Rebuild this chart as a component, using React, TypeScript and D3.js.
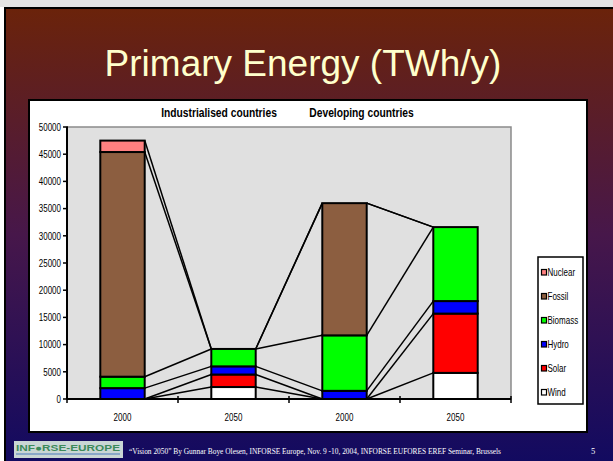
import React from "react";
import * as d3 from "d3";

const categories = ["2000", "2050", "2000", "2050"];
const groupTitles = ["Industrialised countries", "Developing countries"];
const seriesNames = ["Wind", "Solar", "Hydro", "Biomass", "Fossil", "Nuclear"];
const wind = [0, 2200, 0, 4800];
const solar = [0, 2300, 0, 10900];
const hydro = [2000, 1500, 1500, 2300];
const biomass = [2100, 3200, 10200, 13600];
const fossil = [41300, 0, 24300, 0];
const nuclear = [2100, 0, 0, 0];
const yTicks = [0, 5000, 10000, 15000, 20000, 25000, 30000, 35000, 40000, 45000, 50000];
const colors = ["#ffffff", "#ff0000", "#0000ff", "#00ff00", "#8c5e40", "#ff8080"];

const seriesValues = [wind, solar, hydro, biomass, fossil, nuclear];

const W = 613;
const H = 461;
const plot = { left: 67, right: 511, top: 127, bottom: 399 };

function Narrow({ x, y, anchor = "start", size, weight = "normal", k = 0.8, fill = "#000", children }: any) {
  return (
    <text
      transform={`translate(${x},${y}) scale(${k},1)`}
      textAnchor={anchor}
      fontFamily="'Liberation Sans', Arial, sans-serif"
      fontSize={size}
      fontWeight={weight}
      fill={fill}
    >
      {children}
    </text>
  );
}

export default function App() {
  const idx = categories.map((_, i) => i);
  const x = d3
    .scaleBand<number>()
    .domain(idx)
    .range([plot.left, plot.right])
    .paddingInner(0.6)
    .paddingOuter(0.3);
  const y = d3.scaleLinear().domain([0, 50000]).range([plot.bottom, plot.top]);
  const bw = x.bandwidth();
  const step = x.step();

  const table = idx.map((i) => {
    const row: any = {};
    seriesNames.forEach((s, k) => (row[s] = seriesValues[k][i]));
    return row;
  });
  const stacked = d3.stack().keys(seriesNames)(table);

  const boundaries = d3.range(categories.length + 1).map((j) => plot.left + j * step);

  return (
    <svg
      width={W}
      height={H}
      style={{ position: "absolute", left: 0, top: 0, background: "#fff" }}
    >
      <defs>
        <linearGradient id="bg" x1="0" y1="0" x2="0" y2="1">
          <stop offset="0" stopColor="#6b230a" />
          <stop offset="0.5" stopColor="#47174a" />
          <stop offset="1" stopColor="#120a60" />
        </linearGradient>
      </defs>
      <rect x={0} y={0} width={W} height={7} fill="#e4e4e4" />
      <rect x={4} y={7} width={W - 4} height={H - 7} fill="url(#bg)" />
      <line x1={5} y1={7} x2={5} y2={H} stroke="#000" strokeWidth={2} />
      <line x1={4} y1={8} x2={W} y2={8} stroke="#000" strokeWidth={2} />

      <text
        x={303}
        y={76}
        textAnchor="middle"
        fontFamily="'Liberation Sans', Arial, sans-serif"
        fontSize={37}
        fill="#ffffcc"
      >
        Primary Energy (TWh/y)
      </text>

      {/* chart box */}
      <rect x={29} y={100} width={558} height={332} fill="#fff" stroke="#000" strokeWidth={2} />

      {/* group titles */}
      <Narrow x={219} y={116.5} anchor="middle" size={13} weight="bold" k={0.79}>
        {groupTitles[0]}
      </Narrow>
      <Narrow x={361.5} y={116.5} anchor="middle" size={13} weight="bold" k={0.79}>
        {groupTitles[1]}
      </Narrow>

      {/* plot area */}
      <rect
        x={plot.left}
        y={plot.top}
        width={plot.right - plot.left}
        height={plot.bottom - plot.top}
        fill="#e0e0e0"
        stroke="#8a8a8a"
        strokeWidth={1.5}
      />

      {/* series lines */}
      {stacked.map((layer, k) =>
        idx.slice(0, -1).map((i) => (
          <line
            key={`sl-${k}-${i}`}
            x1={(x(i) as number) + bw}
            y1={y(layer[i][1])}
            x2={x(i + 1) as number}
            y2={y(layer[i + 1][1])}
            stroke="#000"
            strokeWidth={1.5}
          />
        ))
      )}

      {/* bars */}
      {stacked.map((layer, k) =>
        layer.map((d, i) =>
          d[1] - d[0] > 0 ? (
            <rect
              key={`b-${k}-${i}`}
              x={x(i)}
              y={y(d[1])}
              width={bw}
              height={y(d[0]) - y(d[1])}
              fill={colors[k]}
              stroke="#000"
              strokeWidth={2}
            />
          ) : null
        )
      )}

      {/* axes */}
      <line x1={plot.left} y1={plot.top} x2={plot.left} y2={plot.bottom} stroke="#000" strokeWidth={2} />
      <line x1={plot.left} y1={plot.bottom} x2={plot.right} y2={plot.bottom} stroke="#000" strokeWidth={2} />
      {yTicks.map((t) => (
        <g key={`yt-${t}`}>
          <line x1={plot.left - 4} y1={y(t)} x2={plot.left + 1} y2={y(t)} stroke="#000" strokeWidth={1.5} />
          <Narrow x={61} y={y(t) + 3.8} anchor="end" size={10.8} k={0.74}>
            {t}
          </Narrow>
        </g>
      ))}
      {boundaries.map((b, j) => (
        <line key={`xt-${j}`} x1={b} y1={plot.bottom - 3} x2={b} y2={plot.bottom + 4} stroke="#000" strokeWidth={1.5} />
      ))}
      {categories.map((c, i) => (
        <Narrow key={`xl-${i}`} x={(x(i) as number) + bw / 2} y={420.5} anchor="middle" size={10.8} k={0.74}>
          {c}
        </Narrow>
      ))}

      {/* legend */}
      <rect x={538} y={257} width={45} height={147} fill="#fff" stroke="#000" strokeWidth={1.5} />
      {seriesNames
        .map((s, k) => ({ s, k }))
        .reverse()
        .map(({ s, k }, j) => {
          const cy = 272 + j * 24;
          return (
            <g key={`lg-${s}`}>
              <rect x={541.5} y={cy - 2.5} width={5} height={5.5} fill={colors[k]} stroke="#000" strokeWidth={1.2} />
              <Narrow x={547.5} y={cy + 3.5} size={10} k={0.8}>
                {s}
              </Narrow>
            </g>
          );
        })}

      {/* footer */}
      <rect x={14} y={441} width={109} height={17} fill="#c9d6d4" />
      <text x={16} y={451} fontFamily="'Liberation Sans', Arial, sans-serif" fontSize={8.5} fontWeight="bold" fill="#3c8a5a" textLength={104} lengthAdjust="spacingAndGlyphs">
        INF●RSE-EUROPE
      </text>
      <rect x={16} y={453} width={104} height={2} fill="#8aa8c8" />
      <text
        x={129}
        y={454}
        fontFamily="'Liberation Serif', 'Times New Roman', serif"
        fontSize={8.5}
        fill="#ffffff"
        textLength={372}
        lengthAdjust="spacingAndGlyphs"
      >
        “Vision 2050”  By Gunnar Boye Olesen, INFORSE Europe, Nov. 9 -10, 2004, INFORSE EUFORES EREF Seminar, Brussels
      </text>
      <text x={591} y={454} fontFamily="'Liberation Serif', 'Times New Roman', serif" fontSize={8.5} fill="#ffffff">
        5
      </text>
    </svg>
  );
}
